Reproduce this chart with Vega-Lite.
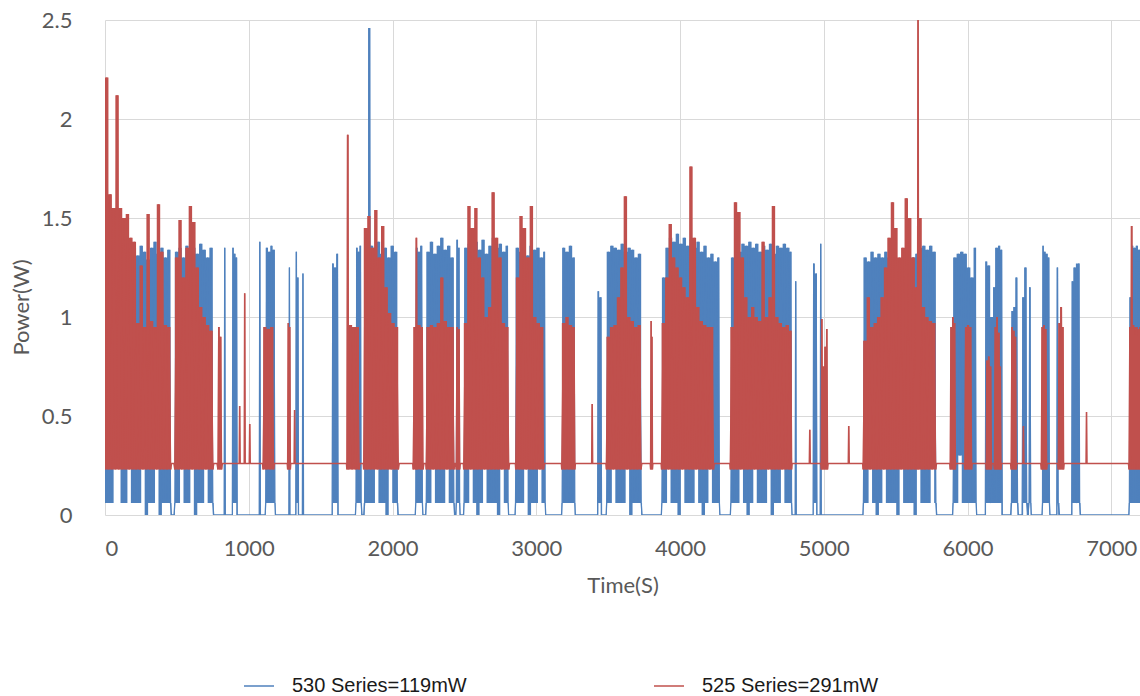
{
"$schema":"https://vega.github.io/schema/vega-lite/v6.json",
"width":1035,"height":495,
"autosize":"none",
"padding":{"left":105,"top":20,"right":0,"bottom":181},
"background":"white",
"config":{"view":{"stroke":null},"font":"Lato",
"axis":{"grid":true,"gridColor":"#d9d9d9","gridWidth":1,"domain":false,"ticks":false,"labelFont":"Lato","labelFontSize":22,"labelColor":"#595959","titleFont":"Lato","titleFontSize":22,"titleColor":"#595959","titleFontWeight":"normal"}},
"datasets":{
"blue":[
{"t":0,"p":0.06},{"t":12,"p":1.33},{"t":24,"p":0.06},{"t":36,"p":1.36},{"t":48,"p":0.06},{"t":60,"p":1.3},{"t":72,"p":0.3},{"t":84,"p":1.35},{"t":96,"p":0.3},{"t":108,"p":1.32},{"t":120,"p":0.06},{"t":132,"p":1.37},{"t":144,"p":0.06},{"t":156,"p":1.28},{"t":168,"p":0.3},{"t":180,"p":1.34},{"t":192,"p":0.06},{"t":204,"p":1.35},{"t":216,"p":0.06},{"t":228,"p":1.31},{"t":240,"p":0.06},{"t":252,"p":1.36},{"t":264,"p":0.3},{"t":276,"p":1.33},{"t":288,"p":0},{"t":300,"p":1.29},{"t":312,"p":0.06},{"t":324,"p":1.35},{"t":336,"p":0.06},{"t":348,"p":1.38},{"t":360,"p":0.3},{"t":372,"p":1.32},{"t":384,"p":0},{"t":396,"p":1.35},{"t":408,"p":0.06},{"t":420,"p":1.3},{"t":432,"p":0.06},{"t":444,"p":1.34},{"t":456,"p":0.06},{"t":462,"p":0},
{"t":480,"p":0},{"t":486,"p":0.06},{"t":498,"p":1.33},{"t":510,"p":0.06},{"t":522,"p":1.35},{"t":534,"p":0.3},{"t":546,"p":1.3},{"t":558,"p":0.06},{"t":570,"p":1.36},{"t":582,"p":0.06},{"t":594,"p":1.33},{"t":606,"p":0.3},{"t":618,"p":1.35},{"t":630,"p":0},{"t":642,"p":1.32},{"t":654,"p":0.06},{"t":666,"p":1.37},{"t":678,"p":0.06},{"t":690,"p":1.34},{"t":702,"p":0.3},{"t":714,"p":1.3},{"t":726,"p":0.06},{"t":738,"p":1.35},{"t":750,"p":0.06},{"t":756,"p":0},
{"t":829,"p":0},{"t":833,"p":1.35},{"t":837,"p":0},
{"t":886,"p":0},{"t":890,"p":1.35},{"t":896,"p":0.06},{"t":902,"p":1.32},{"t":908,"p":0.06},{"t":914,"p":1.3},{"t":920,"p":0},
{"t":1073,"p":0},{"t":1077,"p":1.38},{"t":1081,"p":0},
{"t":1114,"p":0},{"t":1118,"p":0.06},{"t":1126,"p":1.35},{"t":1134,"p":0.06},{"t":1142,"p":1.33},{"t":1150,"p":0.06},{"t":1158,"p":1.36},{"t":1166,"p":0.06},{"t":1174,"p":1.34},{"t":1182,"p":0.06},{"t":1186,"p":0},
{"t":1279,"p":0},{"t":1283,"p":1.25},{"t":1287,"p":0},
{"t":1327,"p":0},{"t":1331,"p":1.33},{"t":1336,"p":0.06},{"t":1342,"p":1.2},{"t":1346,"p":0},
{"t":1373,"p":0},{"t":1377,"p":1.22},{"t":1381,"p":0},
{"t":1580,"p":0},{"t":1585,"p":1.27},{"t":1592,"p":0.06},{"t":1600,"p":1.25},{"t":1608,"p":0.06},{"t":1616,"p":1.32},{"t":1622,"p":0},
{"t":1742,"p":0},{"t":1746,"p":0.06},{"t":1752,"p":1.35},{"t":1758,"p":0.06},{"t":1764,"p":1.33},{"t":1770,"p":0.06},{"t":1776,"p":1.36},{"t":1782,"p":0.06},{"t":1788,"p":0},
{"t":1800,"p":0},{"t":1806,"p":0.06},{"t":1818,"p":1.33},{"t":1830,"p":0.06},{"t":1840,"p":2.46},{"t":1846,"p":0.06},{"t":1854,"p":1.36},{"t":1866,"p":0.06},{"t":1878,"p":1.35},{"t":1890,"p":0.3},{"t":1902,"p":1.38},{"t":1914,"p":0.06},{"t":1926,"p":1.32},{"t":1938,"p":0.06},{"t":1950,"p":1.35},{"t":1962,"p":0},{"t":1974,"p":1.3},{"t":1986,"p":0.3},{"t":1998,"p":1.36},{"t":2010,"p":0.06},{"t":2022,"p":1.33},{"t":2034,"p":0.06},{"t":2040,"p":0},
{"t":2158,"p":0},{"t":2162,"p":0.06},{"t":2168,"p":1.35},{"t":2176,"p":0.06},{"t":2184,"p":1.33},{"t":2192,"p":0.06},{"t":2200,"p":1.36},{"t":2208,"p":0.06},{"t":2212,"p":0},
{"t":2230,"p":0},{"t":2235,"p":0.06},{"t":2247,"p":1.33},{"t":2259,"p":0.06},{"t":2271,"p":1.38},{"t":2283,"p":0.3},{"t":2295,"p":1.32},{"t":2307,"p":0.06},{"t":2319,"p":1.36},{"t":2331,"p":0.06},{"t":2343,"p":1.4},{"t":2355,"p":0.06},{"t":2367,"p":1.34},{"t":2379,"p":0.3},{"t":2391,"p":1.36},{"t":2403,"p":0.06},{"t":2415,"p":1.3},{"t":2427,"p":0.06},{"t":2433,"p":0},
{"t":2440,"p":0},{"t":2444,"p":0.06},{"t":2450,"p":1.39},{"t":2456,"p":0.06},{"t":2462,"p":1.35},{"t":2467,"p":0.06},{"t":2471,"p":0},
{"t":2494,"p":0},{"t":2498,"p":0.06},{"t":2510,"p":1.35},{"t":2522,"p":0.06},{"t":2534,"p":1.37},{"t":2546,"p":0.3},{"t":2558,"p":1.33},{"t":2570,"p":0.06},{"t":2582,"p":1.38},{"t":2594,"p":0},{"t":2606,"p":1.34},{"t":2618,"p":0.06},{"t":2630,"p":1.39},{"t":2642,"p":0.3},{"t":2654,"p":1.32},{"t":2666,"p":0.06},{"t":2678,"p":1.36},{"t":2690,"p":0.06},{"t":2702,"p":1.4},{"t":2714,"p":0.06},{"t":2726,"p":1.35},{"t":2738,"p":0},{"t":2750,"p":1.37},{"t":2762,"p":0.3},{"t":2774,"p":1.33},{"t":2786,"p":0.06},{"t":2798,"p":1.36},{"t":2804,"p":0.06},{"t":2808,"p":0},
{"t":2852,"p":0},{"t":2856,"p":0.06},{"t":2868,"p":1.35},{"t":2880,"p":0.06},{"t":2892,"p":1.33},{"t":2904,"p":0.06},{"t":2916,"p":1.37},{"t":2928,"p":0.3},{"t":2940,"p":1.31},{"t":2952,"p":0},{"t":2964,"p":1.36},{"t":2976,"p":0.06},{"t":2988,"p":1.34},{"t":3000,"p":0.06},{"t":3012,"p":1.35},{"t":3024,"p":0.3},{"t":3036,"p":1.3},{"t":3048,"p":0.06},{"t":3056,"p":1.33},{"t":3062,"p":0.06},{"t":3066,"p":0},
{"t":3176,"p":0},{"t":3180,"p":0.06},{"t":3190,"p":1.35},{"t":3202,"p":0.06},{"t":3214,"p":1.33},{"t":3226,"p":0.06},{"t":3238,"p":1.36},{"t":3250,"p":0.06},{"t":3262,"p":1.3},{"t":3268,"p":0.06},{"t":3272,"p":0},
{"t":3427,"p":0},{"t":3431,"p":1.13},{"t":3438,"p":0.06},{"t":3449,"p":1.1},{"t":3454,"p":0},
{"t":3486,"p":0},{"t":3490,"p":0.06},{"t":3502,"p":1.33},{"t":3514,"p":0.06},{"t":3526,"p":1.36},{"t":3538,"p":0.3},{"t":3550,"p":1.35},{"t":3562,"p":0.06},{"t":3574,"p":1.34},{"t":3586,"p":0.06},{"t":3598,"p":1.37},{"t":3610,"p":0.06},{"t":3622,"p":1.33},{"t":3634,"p":0.3},{"t":3646,"p":1.35},{"t":3658,"p":0},{"t":3670,"p":1.34},{"t":3682,"p":0.06},{"t":3694,"p":1.3},{"t":3706,"p":0.06},{"t":3718,"p":1.32},{"t":3730,"p":0.06},{"t":3736,"p":0},
{"t":3870,"p":0},{"t":3874,"p":0.06},{"t":3886,"p":1.2},{"t":3898,"p":0.06},{"t":3910,"p":1.35},{"t":3922,"p":0.3},{"t":3934,"p":1.4},{"t":3946,"p":0.06},{"t":3958,"p":1.38},{"t":3970,"p":0.06},{"t":3982,"p":1.42},{"t":3994,"p":0},{"t":4006,"p":1.37},{"t":4018,"p":0.3},{"t":4030,"p":1.4},{"t":4042,"p":0.06},{"t":4054,"p":1.36},{"t":4066,"p":0.06},{"t":4078,"p":1.39},{"t":4090,"p":0.06},{"t":4102,"p":1.35},{"t":4114,"p":0.3},{"t":4126,"p":1.38},{"t":4138,"p":0.06},{"t":4150,"p":1.33},{"t":4162,"p":0},{"t":4174,"p":1.36},{"t":4186,"p":0.06},{"t":4198,"p":1.3},{"t":4210,"p":0.3},{"t":4222,"p":1.32},{"t":4234,"p":0.06},{"t":4246,"p":1.28},{"t":4258,"p":0.06},{"t":4268,"p":1.3},{"t":4274,"p":0.06},{"t":4278,"p":0},
{"t":4350,"p":0},{"t":4354,"p":0.06},{"t":4366,"p":1.3},{"t":4378,"p":0.06},{"t":4390,"p":1.35},{"t":4402,"p":0.06},{"t":4414,"p":1.33},{"t":4426,"p":0.3},{"t":4438,"p":1.37},{"t":4450,"p":0.06},{"t":4462,"p":1.36},{"t":4474,"p":0},{"t":4486,"p":1.38},{"t":4498,"p":0.06},{"t":4510,"p":1.35},{"t":4522,"p":0.3},{"t":4534,"p":1.37},{"t":4546,"p":0.06},{"t":4558,"p":1.33},{"t":4570,"p":0.06},{"t":4582,"p":1.36},{"t":4594,"p":0.06},{"t":4606,"p":1.34},{"t":4618,"p":0.3},{"t":4630,"p":1.37},{"t":4642,"p":0},{"t":4654,"p":1.32},{"t":4666,"p":0.06},{"t":4678,"p":1.36},{"t":4690,"p":0.06},{"t":4702,"p":1.35},{"t":4714,"p":0.3},{"t":4726,"p":1.37},{"t":4738,"p":0.06},{"t":4750,"p":1.35},{"t":4762,"p":0.06},{"t":4770,"p":1.33},{"t":4776,"p":0.06},{"t":4780,"p":0},
{"t":4801,"p":0},{"t":4805,"p":1.18},{"t":4809,"p":0},
{"t":4926,"p":0},{"t":4930,"p":1.27},{"t":4938,"p":0.06},{"t":4947,"p":1.22},{"t":4953,"p":0},
{"t":4975,"p":0},{"t":4979,"p":1.37},{"t":4983,"p":0},
{"t":5272,"p":0},{"t":5276,"p":0.06},{"t":5288,"p":1.3},{"t":5300,"p":0.06},{"t":5312,"p":1.28},{"t":5324,"p":0.3},{"t":5336,"p":1.33},{"t":5348,"p":0.06},{"t":5360,"p":1.3},{"t":5372,"p":0},{"t":5384,"p":1.32},{"t":5396,"p":0.06},{"t":5408,"p":1.3},{"t":5420,"p":0.3},{"t":5432,"p":1.33},{"t":5444,"p":0.06},{"t":5456,"p":1.3},{"t":5468,"p":0.06},{"t":5480,"p":1.32},{"t":5492,"p":0.06},{"t":5504,"p":1.28},{"t":5516,"p":0},{"t":5528,"p":1.25},{"t":5540,"p":0.3},{"t":5552,"p":1.27},{"t":5564,"p":0.06},{"t":5576,"p":1.3},{"t":5588,"p":0.06},{"t":5600,"p":1.28},{"t":5612,"p":0.06},{"t":5624,"p":1.3},{"t":5636,"p":0},{"t":5648,"p":1.32},{"t":5660,"p":0.3},{"t":5672,"p":1.35},{"t":5684,"p":0.06},{"t":5696,"p":1.36},{"t":5708,"p":0.06},{"t":5720,"p":1.34},{"t":5732,"p":0.06},{"t":5744,"p":1.36},{"t":5756,"p":0.3},{"t":5768,"p":1.33},{"t":5780,"p":0.06},{"t":5786,"p":0},
{"t":5896,"p":0},{"t":5900,"p":0.06},{"t":5912,"p":1.3},{"t":5924,"p":0.06},{"t":5936,"p":1.32},{"t":5948,"p":0.3},{"t":5960,"p":1.33},{"t":5972,"p":0.06},{"t":5984,"p":1.32},{"t":5996,"p":0.06},{"t":6008,"p":1.25},{"t":6020,"p":0.06},{"t":6030,"p":1.2},{"t":6042,"p":0.06},{"t":6053,"p":1.35},{"t":6060,"p":0.06},{"t":6064,"p":0},
{"t":6124,"p":0},{"t":6129,"p":1.28},{"t":6138,"p":0.06},{"t":6148,"p":1.26},{"t":6158,"p":0.06},{"t":6170,"p":1.0},{"t":6178,"p":0.06},{"t":6184,"p":1.15},{"t":6192,"p":0.06},{"t":6204,"p":1.35},{"t":6212,"p":0.06},{"t":6220,"p":1.36},{"t":6228,"p":0.06},{"t":6236,"p":1.34},{"t":6242,"p":0},
{"t":6300,"p":0},{"t":6306,"p":0.06},{"t":6310,"p":1.03},{"t":6318,"p":0.06},{"t":6326,"p":1.05},{"t":6333,"p":0.06},{"t":6340,"p":1.2},{"t":6348,"p":0.06},{"t":6354,"p":0},{"t":6380,"p":0},{"t":6387,"p":1.1},{"t":6394,"p":0.06},{"t":6403,"p":1.25},{"t":6412,"p":0.06},{"t":6420,"p":0},{"t":6428,"p":0.06},{"t":6433,"p":1.15},{"t":6440,"p":0.06},{"t":6444,"p":0},
{"t":6518,"p":0},{"t":6522,"p":0.06},{"t":6525,"p":1.36},{"t":6531,"p":0.06},{"t":6537,"p":1.33},{"t":6544,"p":0.06},{"t":6552,"p":1.32},{"t":6558,"p":0.06},{"t":6564,"p":1.3},{"t":6570,"p":0.06},{"t":6574,"p":0},
{"t":6621,"p":0},{"t":6625,"p":1.25},{"t":6631,"p":0.06},{"t":6640,"p":0},
{"t":6725,"p":0},{"t":6729,"p":1.18},{"t":6736,"p":0.06},{"t":6746,"p":1.25},{"t":6754,"p":0.06},{"t":6774,"p":1.27},{"t":6780,"p":0.06},{"t":6786,"p":0},
{"t":7122,"p":0},{"t":7126,"p":0.06},{"t":7132,"p":1.1},{"t":7138,"p":0.06},{"t":7146,"p":1.36},{"t":7154,"p":0.06},{"t":7162,"p":1.35},{"t":7170,"p":0.06},{"t":7178,"p":1.36},{"t":7186,"p":0.06},{"t":7194,"p":1.34},{"t":7200,"p":0.06}
],
"red":[
{"t":0,"p":0.23},{"t":12,"p":2.21},{"t":24,"p":0.23},{"t":36,"p":1.62},{"t":48,"p":0.23},{"t":60,"p":1.55},{"t":72,"p":0.23},{"t":84,"p":2.12},{"t":96,"p":0.23},{"t":108,"p":1.55},{"t":120,"p":0.23},{"t":132,"p":1.5},{"t":144,"p":0.23},{"t":156,"p":1.52},{"t":168,"p":0.23},{"t":180,"p":1.4},{"t":192,"p":0.23},{"t":204,"p":1.38},{"t":216,"p":0.23},{"t":228,"p":0.97},{"t":240,"p":0.23},{"t":252,"p":1.26},{"t":264,"p":0.23},{"t":276,"p":0.95},{"t":288,"p":0.23},{"t":300,"p":1.52},{"t":312,"p":0.23},{"t":324,"p":0.98},{"t":336,"p":0.23},{"t":348,"p":0.95},{"t":360,"p":0.23},{"t":372,"p":1.57},{"t":384,"p":0.23},{"t":396,"p":1.33},{"t":408,"p":0.23},{"t":420,"p":0.96},{"t":432,"p":0.23},{"t":444,"p":0.95},{"t":456,"p":0.23},{"t":462,"p":0.26},
{"t":480,"p":0.26},{"t":486,"p":0.23},{"t":498,"p":1.3},{"t":510,"p":0.23},{"t":522,"p":1.49},{"t":534,"p":0.23},{"t":546,"p":1.2},{"t":558,"p":0.23},{"t":570,"p":1.35},{"t":582,"p":0.23},{"t":594,"p":1.56},{"t":606,"p":0.23},{"t":618,"p":1.48},{"t":630,"p":0.23},{"t":642,"p":1.25},{"t":654,"p":0.23},{"t":666,"p":1.05},{"t":678,"p":0.23},{"t":690,"p":1.0},{"t":702,"p":0.23},{"t":714,"p":0.96},{"t":726,"p":0.23},{"t":738,"p":0.93},{"t":750,"p":0.23},{"t":756,"p":0.26},
{"t":780,"p":0.26},{"t":786,"p":0.23},{"t":792,"p":0.95},{"t":798,"p":0.23},{"t":804,"p":0.9},{"t":810,"p":0.23},{"t":816,"p":0.26},
{"t":934,"p":0.26},{"t":937,"p":0.55},{"t":940,"p":0.26},{"t":969,"p":0.26},{"t":972,"p":1.12},{"t":975,"p":0.26},{"t":1004,"p":0.26},{"t":1007,"p":0.46},{"t":1010,"p":0.26},
{"t":1096,"p":0.26},{"t":1100,"p":0.23},{"t":1112,"p":0.95},{"t":1124,"p":0.23},{"t":1136,"p":0.94},{"t":1148,"p":0.23},{"t":1160,"p":0.95},{"t":1172,"p":0.23},{"t":1178,"p":0.26},
{"t":1268,"p":0.26},{"t":1271,"p":0.23},{"t":1275,"p":0.97},{"t":1280,"p":0.23},{"t":1285,"p":0.95},{"t":1289,"p":0.23},{"t":1292,"p":0.26},
{"t":1316,"p":0.26},{"t":1319,"p":0.53},{"t":1322,"p":0.26},
{"t":1680,"p":0.26},{"t":1683,"p":0.23},{"t":1688,"p":1.92},{"t":1695,"p":0.23},{"t":1707,"p":0.96},{"t":1719,"p":0.23},{"t":1731,"p":0.95},{"t":1743,"p":0.23},{"t":1755,"p":0.95},{"t":1767,"p":0.23},{"t":1773,"p":0.26},
{"t":1797,"p":0.26},{"t":1800,"p":0.23},{"t":1812,"p":1.45},{"t":1824,"p":0.23},{"t":1836,"p":1.51},{"t":1848,"p":0.23},{"t":1860,"p":1.35},{"t":1872,"p":0.23},{"t":1884,"p":1.54},{"t":1896,"p":0.23},{"t":1908,"p":1.3},{"t":1920,"p":0.23},{"t":1932,"p":1.46},{"t":1944,"p":0.23},{"t":1956,"p":1.15},{"t":1968,"p":0.23},{"t":1980,"p":1.02},{"t":1992,"p":0.23},{"t":2004,"p":0.97},{"t":2016,"p":0.23},{"t":2028,"p":0.95},{"t":2040,"p":0.23},{"t":2046,"p":0.26},
{"t":2141,"p":0.26},{"t":2144,"p":0.23},{"t":2156,"p":0.95},{"t":2161,"p":0.23},{"t":2166,"p":1.4},{"t":2172,"p":0.23},{"t":2184,"p":0.96},{"t":2196,"p":0.23},{"t":2206,"p":0.95},{"t":2212,"p":0.23},{"t":2218,"p":0.26},
{"t":2232,"p":0.26},{"t":2235,"p":0.23},{"t":2247,"p":0.95},{"t":2259,"p":0.23},{"t":2271,"p":0.96},{"t":2283,"p":0.23},{"t":2295,"p":0.95},{"t":2307,"p":0.23},{"t":2319,"p":0.97},{"t":2331,"p":0.23},{"t":2343,"p":1.2},{"t":2355,"p":0.23},{"t":2367,"p":0.98},{"t":2379,"p":0.23},{"t":2391,"p":0.95},{"t":2403,"p":0.23},{"t":2415,"p":0.95},{"t":2427,"p":0.23},{"t":2433,"p":0.26},
{"t":2440,"p":0.26},{"t":2444,"p":0.23},{"t":2450,"p":0.95},{"t":2456,"p":0.23},{"t":2462,"p":0.94},{"t":2467,"p":0.23},{"t":2471,"p":0.26},
{"t":2493,"p":0.26},{"t":2496,"p":0.23},{"t":2508,"p":0.97},{"t":2520,"p":0.23},{"t":2532,"p":1.56},{"t":2544,"p":0.23},{"t":2556,"p":1.45},{"t":2568,"p":0.23},{"t":2580,"p":1.55},{"t":2592,"p":0.23},{"t":2604,"p":1.3},{"t":2616,"p":0.23},{"t":2628,"p":1.2},{"t":2640,"p":0.23},{"t":2652,"p":1.0},{"t":2664,"p":0.23},{"t":2676,"p":1.05},{"t":2688,"p":0.23},{"t":2700,"p":1.63},{"t":2712,"p":0.23},{"t":2724,"p":1.4},{"t":2736,"p":0.23},{"t":2748,"p":1.3},{"t":2760,"p":0.23},{"t":2772,"p":0.97},{"t":2784,"p":0.23},{"t":2796,"p":0.95},{"t":2808,"p":0.23},{"t":2814,"p":0.26},
{"t":2855,"p":0.26},{"t":2858,"p":0.23},{"t":2870,"p":1.2},{"t":2882,"p":0.23},{"t":2894,"p":1.51},{"t":2906,"p":0.23},{"t":2918,"p":1.45},{"t":2930,"p":0.23},{"t":2942,"p":1.3},{"t":2954,"p":0.23},{"t":2966,"p":1.56},{"t":2978,"p":0.23},{"t":2990,"p":1.0},{"t":3002,"p":0.23},{"t":3014,"p":0.97},{"t":3026,"p":0.23},{"t":3038,"p":0.95},{"t":3050,"p":0.23},{"t":3056,"p":0.26},
{"t":3175,"p":0.26},{"t":3178,"p":0.23},{"t":3190,"p":0.97},{"t":3202,"p":0.23},{"t":3214,"p":1.0},{"t":3226,"p":0.23},{"t":3238,"p":0.96},{"t":3250,"p":0.23},{"t":3262,"p":0.95},{"t":3268,"p":0.23},{"t":3272,"p":0.26},
{"t":3386,"p":0.26},{"t":3389,"p":0.56},{"t":3392,"p":0.26},
{"t":3485,"p":0.26},{"t":3488,"p":0.23},{"t":3500,"p":0.9},{"t":3512,"p":0.23},{"t":3524,"p":0.95},{"t":3536,"p":0.23},{"t":3548,"p":0.96},{"t":3560,"p":0.23},{"t":3572,"p":1.1},{"t":3584,"p":0.23},{"t":3596,"p":1.25},{"t":3608,"p":0.23},{"t":3620,"p":1.61},{"t":3632,"p":0.23},{"t":3644,"p":1.0},{"t":3656,"p":0.23},{"t":3668,"p":0.98},{"t":3680,"p":0.23},{"t":3692,"p":0.95},{"t":3704,"p":0.23},{"t":3716,"p":0.96},{"t":3728,"p":0.23},{"t":3734,"p":0.26},
{"t":3793,"p":0.26},{"t":3796,"p":0.23},{"t":3799,"p":0.98},{"t":3802,"p":0.23},{"t":3805,"p":0.9},{"t":3808,"p":0.23},{"t":3811,"p":0.26},
{"t":3869,"p":0.26},{"t":3872,"p":0.23},{"t":3884,"p":0.97},{"t":3896,"p":0.23},{"t":3908,"p":1.2},{"t":3920,"p":0.23},{"t":3932,"p":1.47},{"t":3944,"p":0.23},{"t":3956,"p":1.3},{"t":3968,"p":0.23},{"t":3980,"p":1.25},{"t":3992,"p":0.23},{"t":4004,"p":1.2},{"t":4016,"p":0.23},{"t":4028,"p":1.15},{"t":4040,"p":0.23},{"t":4052,"p":1.1},{"t":4064,"p":0.23},{"t":4076,"p":1.76},{"t":4088,"p":0.23},{"t":4100,"p":1.4},{"t":4112,"p":0.23},{"t":4124,"p":1.05},{"t":4136,"p":0.23},{"t":4148,"p":0.98},{"t":4160,"p":0.23},{"t":4172,"p":0.96},{"t":4184,"p":0.23},{"t":4196,"p":0.95},{"t":4208,"p":0.23},{"t":4220,"p":0.95},{"t":4232,"p":0.23},{"t":4238,"p":0.26},
{"t":4347,"p":0.26},{"t":4350,"p":0.23},{"t":4362,"p":0.95},{"t":4374,"p":0.23},{"t":4386,"p":1.58},{"t":4398,"p":0.23},{"t":4410,"p":1.53},{"t":4422,"p":0.23},{"t":4434,"p":1.3},{"t":4446,"p":0.23},{"t":4458,"p":1.1},{"t":4470,"p":0.23},{"t":4482,"p":1.0},{"t":4494,"p":0.23},{"t":4506,"p":1.05},{"t":4518,"p":0.23},{"t":4530,"p":1.0},{"t":4542,"p":0.23},{"t":4554,"p":0.98},{"t":4566,"p":0.23},{"t":4578,"p":1.38},{"t":4590,"p":0.23},{"t":4602,"p":1.0},{"t":4614,"p":0.23},{"t":4626,"p":1.1},{"t":4638,"p":0.23},{"t":4650,"p":1.56},{"t":4662,"p":0.23},{"t":4674,"p":1.0},{"t":4686,"p":0.23},{"t":4698,"p":0.97},{"t":4710,"p":0.23},{"t":4722,"p":0.95},{"t":4734,"p":0.23},{"t":4746,"p":0.96},{"t":4758,"p":0.23},{"t":4770,"p":0.93},{"t":4776,"p":0.23},{"t":4780,"p":0.26},
{"t":4900,"p":0.26},{"t":4903,"p":0.43},{"t":4906,"p":0.26},
{"t":4980,"p":0.26},{"t":4983,"p":0.23},{"t":4986,"p":0.99},{"t":4992,"p":0.23},{"t":4998,"p":0.75},{"t":5004,"p":0.23},{"t":5010,"p":0.85},{"t":5016,"p":0.23},{"t":5021,"p":0.94},{"t":5026,"p":0.23},{"t":5030,"p":0.26},
{"t":5171,"p":0.26},{"t":5174,"p":0.45},{"t":5177,"p":0.26},
{"t":5271,"p":0.26},{"t":5274,"p":0.23},{"t":5286,"p":0.88},{"t":5298,"p":0.23},{"t":5310,"p":1.1},{"t":5322,"p":0.23},{"t":5334,"p":0.95},{"t":5346,"p":0.23},{"t":5358,"p":0.97},{"t":5370,"p":0.23},{"t":5382,"p":1.0},{"t":5394,"p":0.23},{"t":5406,"p":1.1},{"t":5418,"p":0.23},{"t":5430,"p":1.25},{"t":5442,"p":0.23},{"t":5454,"p":1.4},{"t":5466,"p":0.23},{"t":5478,"p":1.58},{"t":5490,"p":0.23},{"t":5502,"p":1.45},{"t":5514,"p":0.23},{"t":5526,"p":1.3},{"t":5538,"p":0.23},{"t":5550,"p":1.35},{"t":5562,"p":0.23},{"t":5574,"p":1.6},{"t":5586,"p":0.23},{"t":5598,"p":1.5},{"t":5610,"p":0.23},{"t":5622,"p":1.3},{"t":5634,"p":0.23},{"t":5646,"p":1.15},{"t":5652,"p":0.23},{"t":5656,"p":2.6},{"t":5660,"p":0.23},{"t":5670,"p":1.5},{"t":5682,"p":0.23},{"t":5694,"p":1.05},{"t":5706,"p":0.23},{"t":5718,"p":1.0},{"t":5730,"p":0.23},{"t":5742,"p":0.98},{"t":5754,"p":0.23},{"t":5766,"p":0.97},{"t":5778,"p":0.23},{"t":5784,"p":0.26},
{"t":5877,"p":0.26},{"t":5880,"p":0.23},{"t":5886,"p":0.95},{"t":5892,"p":0.23},{"t":5898,"p":1.0},{"t":5904,"p":0.23},{"t":5910,"p":0.97},{"t":5915,"p":0.23},{"t":5918,"p":0.26},
{"t":5978,"p":0.26},{"t":5982,"p":0.23},{"t":5988,"p":0.95},{"t":5996,"p":0.23},{"t":6004,"p":0.96},{"t":6012,"p":0.23},{"t":6020,"p":0.95},{"t":6028,"p":0.23},{"t":6032,"p":0.26},
{"t":6128,"p":0.26},{"t":6131,"p":0.23},{"t":6136,"p":0.78},{"t":6142,"p":0.23},{"t":6148,"p":0.8},{"t":6154,"p":0.23},{"t":6160,"p":0.75},{"t":6166,"p":0.23},{"t":6170,"p":0.26},
{"t":6184,"p":0.26},{"t":6188,"p":0.23},{"t":6194,"p":0.95},{"t":6200,"p":0.23},{"t":6206,"p":1.0},{"t":6212,"p":0.23},{"t":6218,"p":0.92},{"t":6224,"p":0.23},{"t":6228,"p":0.75},{"t":6232,"p":0.23},{"t":6236,"p":0.26},
{"t":6300,"p":0.26},{"t":6304,"p":0.23},{"t":6310,"p":0.95},{"t":6316,"p":0.23},{"t":6322,"p":0.93},{"t":6328,"p":0.23},{"t":6334,"p":0.9},{"t":6338,"p":0.23},{"t":6342,"p":0.26},
{"t":6386,"p":0.26},{"t":6389,"p":0.45},{"t":6392,"p":0.26},
{"t":6510,"p":0.26},{"t":6514,"p":0.23},{"t":6520,"p":0.95},{"t":6526,"p":0.23},{"t":6532,"p":0.96},{"t":6538,"p":0.23},{"t":6544,"p":0.94},{"t":6550,"p":0.23},{"t":6554,"p":0.26},
{"t":6628,"p":0.26},{"t":6632,"p":0.23},{"t":6638,"p":0.97},{"t":6644,"p":0.23},{"t":6652,"p":1.05},{"t":6658,"p":0.23},{"t":6664,"p":0.95},{"t":6668,"p":0.23},{"t":6672,"p":0.26},
{"t":6825,"p":0.26},{"t":6828,"p":0.52},{"t":6831,"p":0.26},
{"t":7120,"p":0.26},{"t":7124,"p":0.23},{"t":7130,"p":0.95},{"t":7136,"p":0.23},{"t":7142,"p":1.46},{"t":7148,"p":0.23},{"t":7154,"p":0.96},{"t":7160,"p":0.23},{"t":7166,"p":0.95},{"t":7172,"p":0.23},{"t":7178,"p":0.95},{"t":7184,"p":0.23},{"t":7190,"p":0.94},{"t":7196,"p":0.23},{"t":7200,"p":0.95}
]},
"encoding":{
"x":{"field":"t","type":"quantitative","scale":{"domain":[0,7200],"nice":false,"zero":false},
"axis":{"values":[0,1000,2000,3000,4000,5000,6000,7000],"format":"d","title":"Time(S)","labelPadding":23,"titleY":60,"titleBaseline":"top"}}
},
"layer":[
{"data":{"name":"blue"},
"transform":[{"window":[{"op":"max","field":"p","as":"hi"},{"op":"min","field":"p","as":"lo"}],"frame":[0,1],"sort":[{"field":"t"}]}],
"mark":{"type":"area","interpolate":"step-after","color":"#4F81BD","clip":true},
"encoding":{"y":{"field":"hi","type":"quantitative","title":"Power(W)","scale":{"domain":[0,2.5],"nice":false}},"y2":{"field":"lo"}}},
{"data":{"name":"blue"},"mark":{"type":"line","strokeWidth":1.3,"clip":true},
"encoding":{
"y":{"field":"p","type":"quantitative","scale":{"domain":[0,2.5],"nice":false},
"axis":{"values":[0,0.5,1,1.5,2,2.5],"format":"~g","labelPadding":33,"titleX":-84,"titleY":287,"titleBaseline":"middle","titleAlign":"center","titleAngle":-90},"title":"Power(W)"},
"color":{"datum":"530 Series=119mW","type":"nominal",
"scale":{"domain":["530 Series=119mW","525 Series=291mW"],"range":["#4F81BD","#C0504D"]},
"legend":{"orient":"none","legendX":138,"legendY":650,"direction":"horizontal","title":null,"symbolType":"stroke","symbolSize":900,"symbolStrokeWidth":1.5,"labelFont":"Liberation Sans","labelFontSize":20,"labelColor":"#1a1a1a","labelOffset":17,"columnPadding":184,"padding":0,"labelLimit":400}}}},
{"data":{"name":"red"},
"transform":[{"window":[{"op":"max","field":"p","as":"hi"},{"op":"min","field":"p","as":"lo"}],"frame":[0,1],"sort":[{"field":"t"}]}],
"mark":{"type":"area","interpolate":"step-after","color":"#C0504D","clip":true},
"encoding":{"y":{"field":"hi","type":"quantitative","title":"Power(W)","scale":{"domain":[0,2.5],"nice":false}},"y2":{"field":"lo"}}},
{"data":{"name":"red"},"mark":{"type":"line","strokeWidth":1.6,"clip":true},
"encoding":{"y":{"field":"p","type":"quantitative","title":"Power(W)","scale":{"domain":[0,2.5],"nice":false}},
"color":{"datum":"525 Series=291mW","type":"nominal"}}}
]
}
